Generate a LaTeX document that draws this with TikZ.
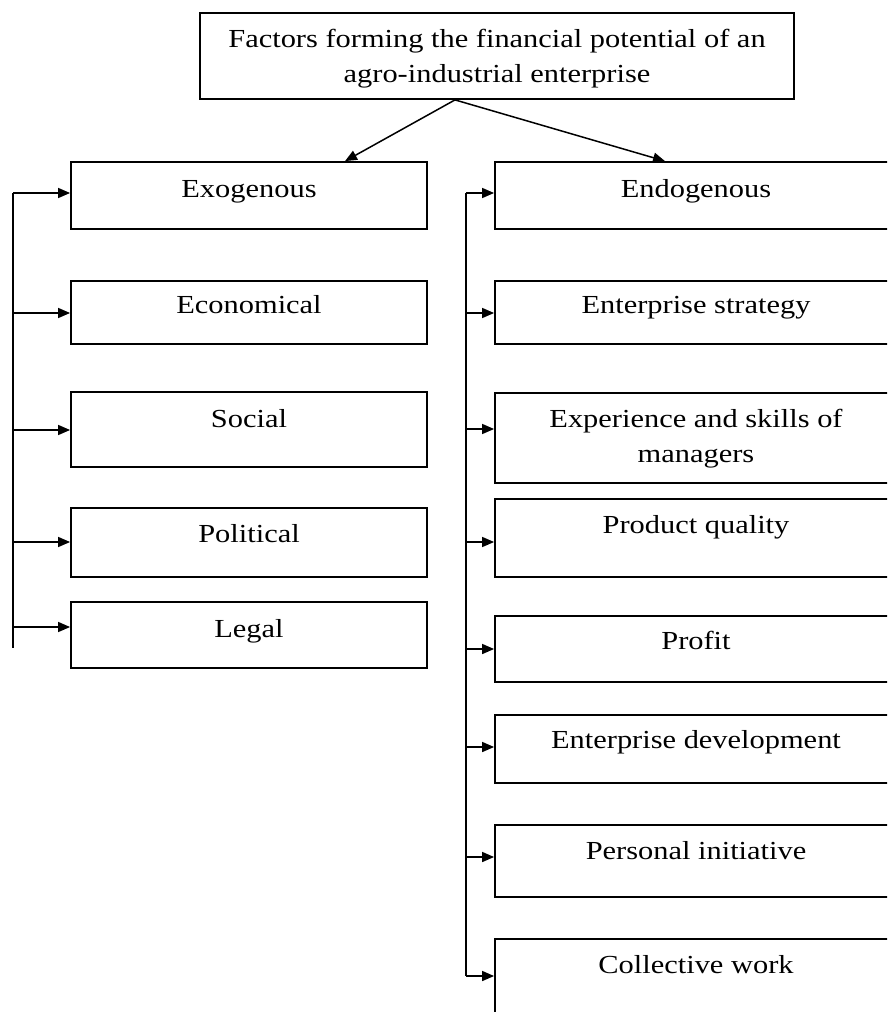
\documentclass[tikz,border=0pt]{standalone}
\usepackage{fontspec}
\setmainfont{Liberation Serif}[FakeStretch=1.17]
\usetikzlibrary{arrows.meta}
\begin{document}
\begin{tikzpicture}[x=1pt,y=-1pt,
  box/.style={draw, line width=1.8pt, inner sep=0pt, minimum width=#1},
  lbl/.style={anchor=base, align=center, inner sep=0pt, font=\fontsize{26}{35}\selectfont},
  arr/.style={line width=1.5pt, -{Triangle[length=12pt,width=10pt]}},
  spine/.style={line width=1.5pt}]
\useasboundingbox (0,0) rectangle (887,1012);
\clip (0,0) rectangle (887,1012);
% top box
\node[box=594, minimum height=86] (top) at (497,56) {};
\node[lbl] (topt) at (497,82) {Factors forming the financial potential of an\\agro-industrial enterprise};
% left column
\node[box=356, minimum height=67] (exo) at (249,195.5) {};
\node[box=356, minimum height=63] (eco) at (249,312.5) {};
\node[box=356, minimum height=75] (soc) at (249,429.5) {};
\node[box=356, minimum height=69] (pol) at (249,542.5) {};
\node[box=356, minimum height=66] (leg) at (249,635) {};
\node[lbl] (exot) at (249,197) {Exogenous};
\node[lbl] (ecot) at (249,313) {Economical};
\node[lbl] (soct) at (249,427) {Social};
\node[lbl] (polt) at (249,542) {Political};
\node[lbl] (legt) at (249,637) {Legal};
% right column
\node[box=402, minimum height=67] (endo) at (696,195.5) {};
\node[box=402, minimum height=63] (strat) at (696,312.5) {};
\node[box=402, minimum height=90] (expe) at (696,438) {};
\node[box=402, minimum height=78] (pq) at (696,538) {};
\node[box=402, minimum height=66] (prof) at (696,649) {};
\node[box=402, minimum height=68] (dev) at (696,749) {};
\node[box=402, minimum height=72] (pers) at (696,861) {};
\node[box=402, minimum height=91] (coll) at (696,984.5) {};
\node[lbl] (endot) at (696,197) {Endogenous};
\node[lbl] (stratt) at (696,313) {Enterprise strategy};
\node[lbl] (expet) at (696,462) {Experience and skills of\\managers};
\node[lbl] (pqt) at (696,533) {Product quality};
\node[lbl] (proft) at (696,649) {Profit};
\node[lbl] (devt) at (696,748) {Enterprise development};
\node[lbl] (perst) at (696,859) {Personal initiative};
\node[lbl] (collt) at (696,973) {Collective work};
% top arrows
\coordinate (ts) at ([xshift=-42pt]top.south);
\coordinate (te1) at ([xshift=96pt]exo.north);
\coordinate (te2) at ([xshift=-31pt]endo.north);
\draw[arr] (ts) -- (te1);
\draw[arr] (ts) -- (te2);
% left spine
\coordinate (L1) at (13,193);
\coordinate (L2) at (13,313);
\coordinate (L3) at (13,430);
\coordinate (L4) at (13,542);
\coordinate (L5) at (13,627);
\coordinate (Lend) at (13,648);
\draw[spine] (L1) -- (Lend);
\draw[arr] (L1) -- (L1 -| exo.west);
\draw[arr] (L2) -- (L2 -| eco.west);
\draw[arr] (L3) -- (L3 -| soc.west);
\draw[arr] (L4) -- (L4 -| pol.west);
\draw[arr] (L5) -- (L5 -| leg.west);
% right spine
\coordinate (R1) at (466,193);
\coordinate (R2) at (466,313);
\coordinate (R3) at (466,429);
\coordinate (R4) at (466,542);
\coordinate (R5) at (466,649);
\coordinate (R6) at (466,747);
\coordinate (R7) at (466,857);
\coordinate (R8) at (466,976);
\draw[spine] (R1) -- (R8);
\draw[arr] (R1) -- (R1 -| endo.west);
\draw[arr] (R2) -- (R2 -| strat.west);
\draw[arr] (R3) -- (R3 -| expe.west);
\draw[arr] (R4) -- (R4 -| pq.west);
\draw[arr] (R5) -- (R5 -| prof.west);
\draw[arr] (R6) -- (R6 -| dev.west);
\draw[arr] (R7) -- (R7 -| pers.west);
\draw[arr] (R8) -- (R8 -| coll.west);
\end{tikzpicture}
\end{document}
